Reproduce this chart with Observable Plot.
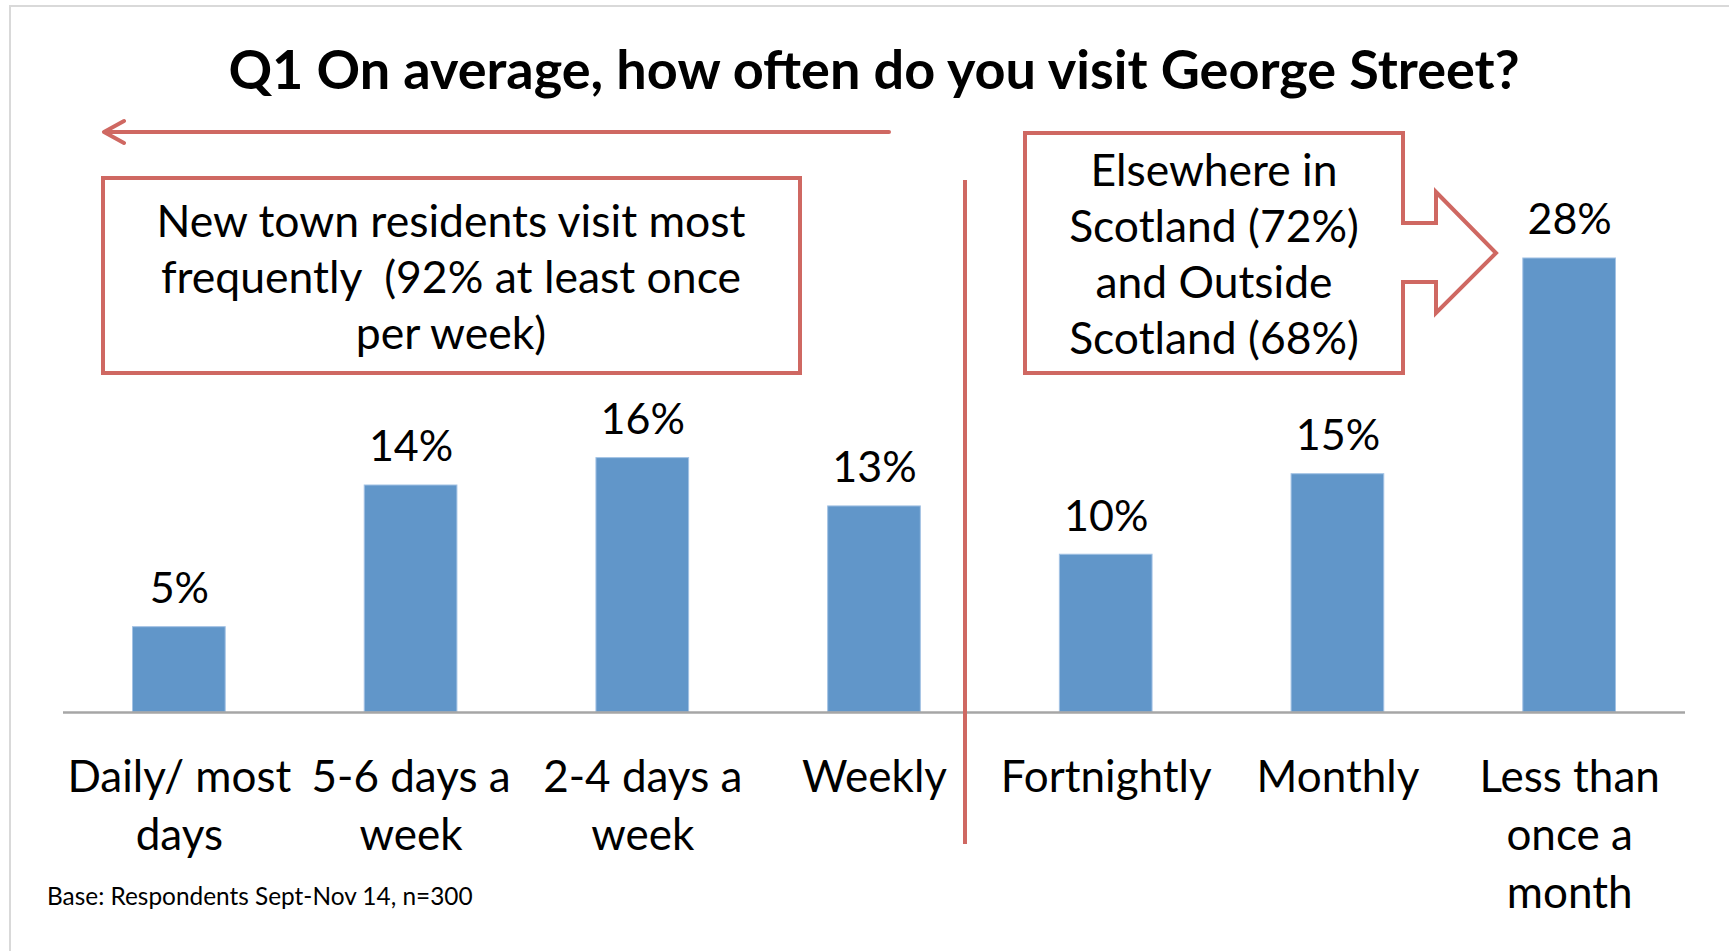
<!DOCTYPE html>
<html><head><meta charset="utf-8">
<script src="https://cdn.jsdelivr.net/npm/d3@7"></script>
<script src="https://cdn.jsdelivr.net/npm/@observablehq/plot@0.6"></script>
<style>body{margin:0;background:#fff;overflow:hidden}</style>
</head><body><div id="chart"></div>
<script>
const categories = ["Daily/ most\ndays", "5-6 days a\nweek", "2-4 days a\nweek", "Weekly", "Fortnightly", "Monthly", "Less than\nonce a\nmonth"];
const values = [5.3, 14.1, 15.8, 12.8, 9.8, 14.8, 28.2];
const valueLabels = ["5%", "14%", "16%", "13%", "10%", "15%", "28%"];
const title = "Q1 On average, how often do you visit George Street?";
const leftNote = ["New town residents visit most", "frequently  (92% at least once", "per week)"];
const rightNote = ["Elsewhere in", "Scotland (72%)", "and Outside", "Scotland (68%)"];
const footnote = "Base: Respondents Sept-Nov 14, n=300";

const data = categories.map((c, i) => ({category: c, value: values[i], label: valueLabels[i]}));
const RED = "#cf6862";
const FONT = "Lato, sans-serif";

const chart = Plot.plot({
  width: 1729, height: 951,
  marginLeft: 63, marginRight: 44, marginTop: 229, marginBottom: 239,
  style: {fontFamily: FONT, fontSize: "44px", background: "white", color: "#000"},
  x: {domain: categories, paddingInner: 0.6, paddingOuter: 0.3, round: false, label: null},
  y: {domain: [0, 30], axis: null},
  marks: [
    Plot.barY(data, {x: "category", y: "value", fill: "#6196c9", stroke: "#a3c2e4", strokeWidth: 1}),
    Plot.ruleY([0], {stroke: "#a6a6a6", strokeWidth: 2.5}),
    Plot.text(data, {x: "category", y: "value", text: "label", lineAnchor: "bottom", dy: -24, fontSize: 43, fill: "#000"}),
    Plot.axisX({tickSize: 0, tickPadding: 39, fontSize: 44, lineHeight: 1.31, label: null, fill: "#000"})
  ]
});
document.getElementById("chart").appendChild(chart);

const svg = d3.select(chart);
// outer frame
svg.insert("rect", ":first-child").attr("x", 10).attr("y", 6).attr("width", 1740).attr("height", 960)
  .attr("fill", "none").attr("stroke", "#d9d9d9").attr("stroke-width", 2);

// title
svg.append("text").attr("x", 874).attr("y", 89).attr("text-anchor", "middle")
  .attr("font-family", FONT).attr("font-weight", "bold").attr("font-size", 54).attr("fill", "#000").text(title);

// left arrow
svg.append("path").attr("d", "M889,132 L105,132 M124,121 L104,132 L124,143")
  .attr("fill", "none").attr("stroke", RED).attr("stroke-width", 4).attr("stroke-linecap", "round").attr("stroke-linejoin", "round");

// left note box
svg.append("rect").attr("x", 103).attr("y", 178).attr("width", 697).attr("height", 195)
  .attr("fill", "white").attr("stroke", RED).attr("stroke-width", 4);
leftNote.forEach((t, i) => svg.append("text").attr("x", 451).attr("y", 237 + i * 56).attr("text-anchor", "middle")
  .attr("font-family", FONT).attr("font-size", 44.5).attr("fill", "#000").style("white-space", "pre").text(t));

// divider
svg.append("line").attr("x1", 965).attr("x2", 965).attr("y1", 180).attr("y2", 844)
  .attr("stroke", RED).attr("stroke-width", 4);

// right arrow callout
svg.append("path").attr("d", "M1025,133 L1403,133 L1403,223 L1436,223 L1436,192 L1496,253 L1436,313 L1436,282 L1403,282 L1403,373 L1025,373 Z")
  .attr("fill", "white").attr("stroke", RED).attr("stroke-width", 4).attr("stroke-linejoin", "miter");
rightNote.forEach((t, i) => svg.append("text").attr("x", 1214).attr("y", 186 + i * 56).attr("text-anchor", "middle")
  .attr("font-family", FONT).attr("font-size", 44.4).attr("fill", "#000").text(t));

// footnote
svg.append("text").attr("x", 47).attr("y", 905).attr("text-anchor", "start").attr("font-family", FONT)
  .attr("font-size", 24.4).attr("fill", "#000").text(footnote);
</script>
</body></html>
